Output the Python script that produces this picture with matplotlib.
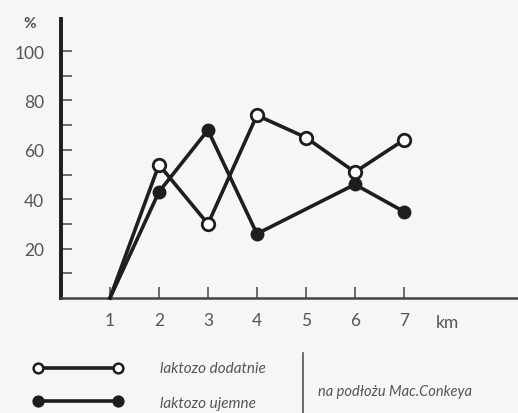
import matplotlib.pyplot as plt
import matplotlib.lines as mlines

km = [1, 2, 3, 4, 5, 6, 7]
dodatnie = [0, 54, 30, 74, 65, 51, 64]
ujemne_km = [1, 2, 3, 4, 6, 7]
ujemne = [0, 43, 68, 26, 46, 35]

y_ticks = [20, 40, 60, 80, 100]
y_minor = [10, 30, 50, 70, 90]

ink = '#1e1e1e'
grey = '#555555'
plt.rcParams['font.family'] = ['Lato', 'DejaVu Sans']

fig = plt.figure(figsize=(5.18, 4.14), dpi=100, facecolor='#f6f6f4')
ax = fig.add_axes([61 / 518, 115 / 414, 457 / 518, 279 / 414])
ax.set_facecolor('#f6f6f4')

# the first point (km 1) has no circle, both lines just start there
ax.plot(km, dodatnie, color=ink, lw=2.6, marker='o', ms=9,
        mfc='white', mec=ink, mew=2.0, markevery=slice(1, None),
        clip_on=False, zorder=3)
ax.plot(ujemne_km, ujemne, color=ink, lw=2.6, marker='o', ms=9,
        mfc=ink, mec=ink, markevery=slice(1, None),
        clip_on=False, zorder=4)

ax.set_xlim(0, 9.33)
ax.set_ylim(0, 113)
for s in ['top', 'right']:
    ax.spines[s].set_visible(False)
ax.spines['left'].set_linewidth(2.8)
ax.spines['left'].set_color(ink)
ax.spines['bottom'].set_linewidth(1.8)
ax.spines['bottom'].set_color('#444444')

ax.set_xticks(km)
ax.set_yticks(y_ticks)
ax.set_yticks(y_minor, minor=True)
ax.tick_params(axis='both', which='both', direction='in', length=8,
               width=1.2, color=grey, labelcolor=grey, labelsize=12.5)
ax.tick_params(axis='x', pad=10)
ax.tick_params(axis='y', pad=12)
ax.set_xticklabels([str(k) for k in km])

fig.text(30 / 518, 1 - 24 / 414, '%', color=grey, fontsize=11,
         fontweight='bold', ha='center', va='center')
fig.text(447 / 518, 1 - 323 / 414, 'km', color=grey, fontsize=12.5,
         ha='center', va='center')

# legend drawn by hand below the axes
for y, face in [(369, 'white'), (402, ink)]:
    yf = 1 - y / 414
    fig.add_artist(mlines.Line2D([38 / 518, 118 / 518], [yf, yf],
                                 color=ink, lw=2.6, marker='o', ms=7,
                                 mfc=face, mec=ink, mew=1.8))
fig.text(160 / 518, 1 - 369 / 414, 'laktozo dodatnie', style='italic',
         color=grey, fontsize=11, va='center')
fig.text(160 / 518, 1 - 404 / 414, 'laktozo ujemne', style='italic',
         color=grey, fontsize=11, va='center')
fig.add_artist(mlines.Line2D([303 / 518, 303 / 518],
                             [1 - 354 / 414, 1 - 414 / 414],
                             color=grey, lw=1.2))
fig.text(318 / 518, 1 - 392 / 414, 'na podłożu Mac.Conkeya', style='italic',
         color=grey, fontsize=10.5, va='center')

fig.savefig('out.png', dpi=100, facecolor=fig.get_facecolor())
